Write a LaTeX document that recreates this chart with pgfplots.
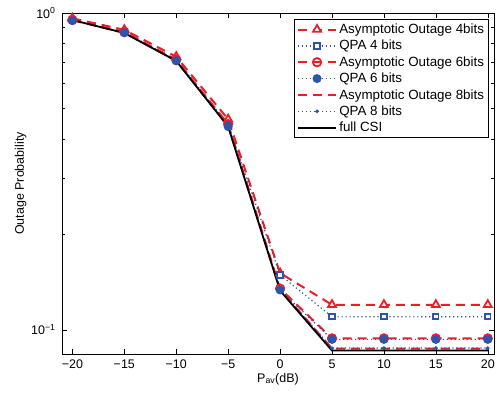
\documentclass[border=0pt]{standalone}
\usepackage{fontspec}
\setmainfont{Liberation Sans}
\usepackage{pgfplots}
\pgfplotsset{compat=1.18}
\definecolor{mred}{RGB}{235,30,40}
\definecolor{mblue}{RGB}{45,85,170}
\pgfplotstableread{
x a4 q4 a6 q6 a8 q8 f
-20 0.962 0.950 0.952 0.946 0.950 0.948 0.950
-15 0.885 0.868 0.872 0.866 0.866 0.866 0.865
-10 0.728 0.712 0.712 0.706 0.707 0.706 0.706
-5 0.462 0.445 0.446 0.438 0.440 0.438 0.438
0 0.151 0.149 0.135 0.1336 0.134 0.134 0.133
5 0.120 0.110 0.0940 0.0933 0.0873 0.0876 0.0860
10 0.120 0.110 0.0940 0.0933 0.0873 0.0876 0.0860
15 0.120 0.110 0.0940 0.0933 0.0873 0.0876 0.0860
20 0.120 0.110 0.0940 0.0933 0.0873 0.0876 0.0860
}\datatable
\begin{document}
\begin{tikzpicture}
\begin{axis}[
  at={(0,0)}, anchor=south west,
  scale only axis,
  width=432bp, height=341bp,
  ymode=log,
  xmin=-21, xmax=20.6,
  ymin=0.0839, ymax=1,
  xtick={-20,-15,-10,-5,0,5,10,15,20},
  xticklabels={−20,−15,−10,−5,0,5,10,15,20},
  ytick={0.1,1},
  yticklabels={10\textsuperscript{−1},10\textsuperscript{0}},
  tick align=inside,
  major tick length=5bp, minor tick length=3bp,
  tick style={black, line width=0.5pt},
  every tick label/.append style={font=\fontsize{12.5}{14}\selectfont},
  yticklabel style={xshift=-3bp},
  xticklabel style={yshift=-2bp},
  xlabel={P\textsubscript{av}(dB)},
  ylabel={Outage Probability},
  label style={font=\fontsize{12.5}{14}\selectfont},
  xlabel style={yshift=2bp},
  ylabel style={yshift=-2bp},
  axis line style={black, line width=0.6pt},
  legend style={at={(rel axis cs:0.988,0.982)}, anchor=north east,
    font=\fontsize{13.4}{15}\selectfont, draw=black, line width=0.7pt,
    inner sep=2.5pt, row sep=1.2pt,
    cells={anchor=west}},
  legend image code/.code={
    \draw[mark repeat=2,mark phase=2,#1] plot coordinates {(0cm,0cm)(0.68cm,0cm)(1.36cm,0cm)};
  },
  red dash/.style={mred, line width=2pt, dash pattern=on 9bp off 6bp},
  blue dot/.style={mblue, line width=1.2pt, dash pattern=on 1.2pt off 2.8pt},
]
\addplot[red dash, mark=triangle*, mark size=4.6pt, mark options={solid, fill=white, line width=1.8pt}] table[x=x,y=a4] {\datatable};
\addlegendentry{Asymptotic Outage 4bits}
\addplot[blue dot, mark=square*, mark size=2.7pt, mark options={solid, fill=white, line width=1.9pt}] table[x=x,y=q4] {\datatable};
\addlegendentry{QPA 4 bits}
\addplot[red dash, mark=o, mark size=4.2pt, mark options={solid, line width=1.8pt}] table[x=x,y=a6] {\datatable};
\addlegendentry{Asymptotic Outage 6bits}
\addplot[blue dot, mark=*, mark size=3.9pt, mark options={solid, fill=mblue}] table[x=x,y=q6] {\datatable};
\addlegendentry{QPA 6 bits}
\addplot[red dash] table[x=x,y=a8] {\datatable};
\addlegendentry{Asymptotic Outage 8bits}
\addplot[blue dot, mark=*, mark size=1.2pt, mark options={solid, fill=mblue}] table[x=x,y=q8] {\datatable};
\addlegendentry{QPA 8 bits}
\addplot[black, solid, line width=1.8pt] table[x=x,y=f] {\datatable};
\addlegendentry{full CSI}
\end{axis}
\pgfresetboundingbox
\path (-62bp,-45bp) rectangle (435bp,354bp);
\end{tikzpicture}
\end{document}
